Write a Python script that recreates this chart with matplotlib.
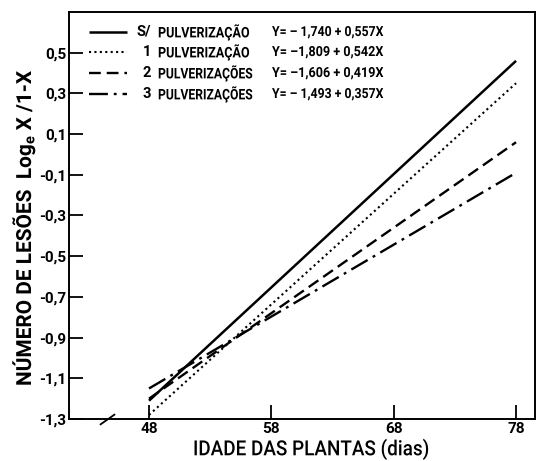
import matplotlib
matplotlib.use("Agg")
import matplotlib.pyplot as plt
import matplotlib.transforms as mtransforms
from matplotlib.patheffects import AbstractPathEffect

plt.rcParams['font.family'] = ['Roboto', 'DejaVu Sans']
plt.rcParams['mathtext.fontset'] = 'custom'
plt.rcParams['mathtext.rm'] = 'Roboto:bold'
plt.rcParams['mathtext.it'] = 'Roboto:bold'
plt.rcParams['mathtext.bf'] = 'Roboto:bold'
plt.rcParams['mathtext.sf'] = 'Roboto:bold'
plt.rcParams['mathtext.default'] = 'rm'

# Data: fitted lines between day 48 and day 78
days = [48, 78]
series_prefix = ["S/", "1", "2", "3"]
series_rest = ["PULVERIZAÇÃO", "PULVERIZAÇÃO", "PULVERIZAÇÕES", "PULVERIZAÇÕES"]
equations = ["Y= \u2013 1,740 + 0,557X", "Y= \u20131,809 + 0,542X",
             "Y= \u20131,606 + 0,419X", "Y= \u2013 1,493 + 0,357X"]
values = [
    [-1.21, 0.46],
    [-1.28, 0.35],
    [-1.20, 0.06],
    [-1.15, -0.09],
]
x_ticks = [48, 58, 68, 78]
y_ticks = [-1.3, -1.1, -0.9, -0.7, -0.5, -0.3, -0.1, 0.1, 0.3, 0.5]
y_tick_labels = ["-1,3", "-1,1", "-0,9", "-0,7", "-0,5", "-0,3", "-0,1", "0,1", "0,3", "0,5"]


class Squeeze(AbstractPathEffect):
    """Condense glyphs along the text direction (text stays real text)."""
    def __init__(self, sx):
        super().__init__()
        self.sx = sx

    def draw_path(self, renderer, gc, tpath, affine, rgbFace=None):
        renderer.draw_path(gc, tpath, mtransforms.Affine2D().scale(self.sx, 1.0) + affine, rgbFace)


styles = [
    dict(linestyle='-', lw=1.8),
    dict(linestyle=(0, (1.0, 1.6)), lw=1.5),
    dict(linestyle=(0, (5, 2.5)), lw=1.7),
    dict(linestyle=(0, (8, 2.5, 1.2, 2.5)), lw=1.7),
]

fig = plt.figure(figsize=(5.38, 4.61), dpi=100)
ax = fig.add_axes([69/538, 42/461, 466/538, 407/461])

for vals, st in zip(values, styles):
    ax.plot(days, vals, color='black', solid_capstyle='butt', dash_capstyle='butt', **st)

ax.set_xlim(41.46, 79.55)
ax.set_ylim(-1.3, 0.70)

tick_font = dict(fontfamily='Roboto', fontweight='bold', fontsize=11)
ax.set_xticks(x_ticks)
ax.set_xticklabels([str(t) for t in x_ticks], **tick_font)
ax.set_yticks(y_ticks)
ax.set_yticklabels(y_tick_labels, **tick_font)

ax.tick_params(direction='in', length=10, width=1.3, pad=2)
ax.tick_params(axis='x', pad=2)
ax.tick_params(top=False, right=False)
for sp in ax.spines.values():
    sp.set_linewidth(1.4)

# axis break mark
trans = mtransforms.blended_transform_factory(ax.transData, ax.transAxes)
ax.plot([44.6], [0], marker=[(-1, -0.7), (1, 0.7)], markersize=11, mew=1.3,
        color='black', transform=trans, clip_on=False)


def fx(px):
    return (px - 69) / 466.0


def fy(py):
    return (419 - py) / 407.0


xl = ax.set_xlabel("IDADE DAS PLANTAS (dias)", fontsize=15, fontfamily='Roboto',
                   fontweight='medium', ha='left', va='top')
ax.xaxis.set_label_coords(fx(193), fy(439))
yl = ax.set_ylabel("NÚMERO DE LESÕES  Log$_\\mathrm{e}$ X /1-X", fontsize=15,
                   fontfamily='Roboto', fontweight='bold', ha='left')
ax.yaxis.set_label_coords(fx(37), fy(386))

# manual legend
rows_px = [32, 52, 73, 94]
fit = []
for yp, st, pre, rest, eq in zip(rows_px, styles, series_prefix, series_rest, equations):
    yy = fy(yp)
    ax.plot([fx(89), fx(127)], [yy, yy], color='black', transform=ax.transAxes,
            solid_capstyle='butt', dash_capstyle='butt', **st)
    ax.text(fx(151), yy, pre, transform=ax.transAxes, ha='right', va='center',
            fontsize=10.5, fontweight='bold', fontfamily='Roboto')
    t2 = ax.text(fx(158), yy, rest, transform=ax.transAxes, ha='left', va='center',
                 fontsize=10.5, fontweight='bold', fontfamily='Roboto')
    t3 = ax.text(fx(272), yy, eq, transform=ax.transAxes, ha='left', va='center',
                 fontsize=10, fontweight='bold', fontfamily='Roboto')
    fit.append((t2, 92 if rest.endswith('ÃO') else 95, True))
    fit.append((t3, 111, True))

fit.append((xl, 237, True))
fit.append((yl, 325, False))

# condense texts to the reference widths
fig.canvas.draw()
r = fig.canvas.get_renderer()
for t, target, horiz in fit:
    bb = t.get_window_extent(r)
    w = bb.width if horiz else bb.height
    sx = min(1.0, target / w)
    t.set_path_effects([Squeeze(sx)])

fig.savefig("out.png", dpi=100)
